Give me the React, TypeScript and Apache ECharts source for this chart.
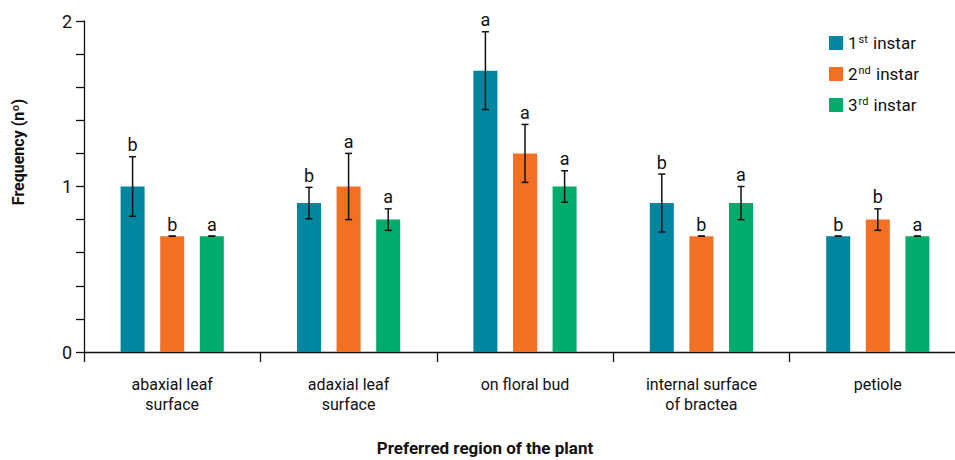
import React, { useEffect, useRef } from "react";
import * as echarts from "echarts";

const categories = [
  "abaxial leaf\nsurface",
  "adaxial leaf\nsurface",
  "on floral bud",
  "internal surface\nof bractea",
  "petiole",
];
const seriesNames = ["1st instar", "2nd instar", "3rd instar"];
const colors = ["#00869F", "#F27024", "#00AB6B"];

const firstInstar = [1.0, 0.9, 1.7, 0.9, 0.7];
const secondInstar = [0.7, 1.0, 1.2, 0.7, 0.8];
const thirdInstar = [0.7, 0.8, 1.0, 0.9, 0.7];

const firstErr = [0.18, 0.095, 0.235, 0.175, 0];
const secondErr = [0, 0.2, 0.175, 0, 0.065];
const thirdErr = [0, 0.065, 0.095, 0.1, 0];

const firstLetters = ["b", "b", "a", "b", "b"];
const secondLetters = ["b", "a", "a", "b", "b"];
const thirdLetters = ["a", "a", "a", "a", "a"];

const yTicks = [0, 1, 2];

const values = [firstInstar, secondInstar, thirdInstar];
const errors = [firstErr, secondErr, thirdErr];
const letters = [firstLetters, secondLetters, thirdLetters];

const FONT = "Roboto, sans-serif";
const BAR_W = 24;
const BAR_GAP = 0.65;

export default function App() {
  const ref = useRef<HTMLDivElement>(null);

  useEffect(() => {
    if (!ref.current) return;
    const chart = echarts.init(ref.current, null, { renderer: "svg" });

    const barSeries = values.map((vals, s) => ({
      name: seriesNames[s],
      type: "bar",
      data: vals,
      barWidth: BAR_W,
      barGap: `${BAR_GAP * 100}%`,
      itemStyle: { color: colors[s] },
      z: 2,
    }));

    // error bars plus significance letters, offset to sit on each bar of the group
    const errSeries = values.map((vals, s) => ({
      type: "custom",
      name: seriesNames[s] + " err",
      data: vals.map((v, i) => [i, v, errors[s][i], s]),
      z: 5,
      silent: true,
      renderItem: (params: any, api: any) => {
        const i = api.value(0);
        const v = api.value(1);
        const e = api.value(2);
        const sIdx = api.value(3);
        const offset = (sIdx - 1) * BAR_W * (1 + BAR_GAP);
        const top = api.coord([i, v + e]);
        const bot = api.coord([i, v - e]);
        const x = top[0] + offset;
        const cap = 3.5;
        const style = { stroke: "#111", lineWidth: 1.5 };
        return {
          type: "group",
          children: [
            { type: "line", shape: { x1: x, y1: top[1], x2: x, y2: bot[1] }, style },
            { type: "line", shape: { x1: x - cap, y1: top[1], x2: x + cap, y2: top[1] }, style },
            { type: "line", shape: { x1: x - cap, y1: bot[1], x2: x + cap, y2: bot[1] }, style },
            {
              type: "text",
              x,
              y: top[1] - 3,
              style: {
                text: letters[sIdx][i],
                fill: "#111",
                font: `18px ${FONT}`,
                align: "center",
                verticalAlign: "bottom",
              },
            },
          ],
        };
      },
    }));

    chart.setOption({
      animation: false,
      textStyle: { fontFamily: FONT },
      grid: { left: 84, right: -11, top: 21, bottom: 108, containLabel: false, outerBoundsMode: "none" },
      legend: {
        orient: "vertical",
        left: 824,
        top: 29,
        itemWidth: 14,
        itemHeight: 14,
        itemGap: 13,
        icon: "rect",
        data: seriesNames,
        formatter: (name: string) => name.replace(/^(\d)(st|nd|rd)/, "$1{sup|$2}"),
        textStyle: {
          fontSize: 17,
          color: "#111",
          fontFamily: FONT,
          lineHeight: 18,
          rich: {
            sup: { fontSize: 11, verticalAlign: "top", lineHeight: 10, padding: [0, 1, 6, 1], fontFamily: FONT, color: "#111" },
          },
        },
      },
      xAxis: {
        type: "category",
        data: categories,
        axisLine: { lineStyle: { color: "#111", width: 1.3 } },
        axisTick: { show: true, length: 10, lineStyle: { color: "#111", width: 1.3 } },
        axisLabel: { color: "#111", fontSize: 16, lineHeight: 20, margin: 22, interval: 0, fontFamily: FONT },
      },
      yAxis: {
        type: "value",
        min: 0,
        max: 2,
        interval: 0.2,
        splitLine: { show: false },
        axisLine: { show: true, lineStyle: { color: "#111", width: 1.3 } },
        axisTick: { show: true, length: 8, lineStyle: { color: "#111", width: 1.3 } },
        axisLabel: {
          color: "#111",
          fontSize: 18,
          margin: 12,
          fontFamily: FONT,
          formatter: (v: number) => {
            const t = yTicks.find((k) => Math.abs(k - v) < 1e-6);
            return t === undefined ? "" : String(t);
          },
        },
      },
      graphic: [
        {
          type: "text",
          x: 18,
          y: 152,
          rotation: Math.PI / 2,
          style: {
            text: "Frequency (nº)",
            font: `bold 16px ${FONT}`,
            fill: "#111",
            align: "center",
            verticalAlign: "middle",
          },
        },
        {
          type: "text",
          x: 485,
          y: 448,
          style: {
            text: "Preferred region of the plant",
            font: `bold 17px ${FONT}`,
            fill: "#111",
            align: "center",
            verticalAlign: "middle",
          },
        },
      ],
      series: [...barSeries, ...errSeries],
    });

    return () => chart.dispose();
  }, []);

  return <div ref={ref} style={{ position: "absolute", left: 0, top: 0, width: 955, height: 460 }} />;
}
